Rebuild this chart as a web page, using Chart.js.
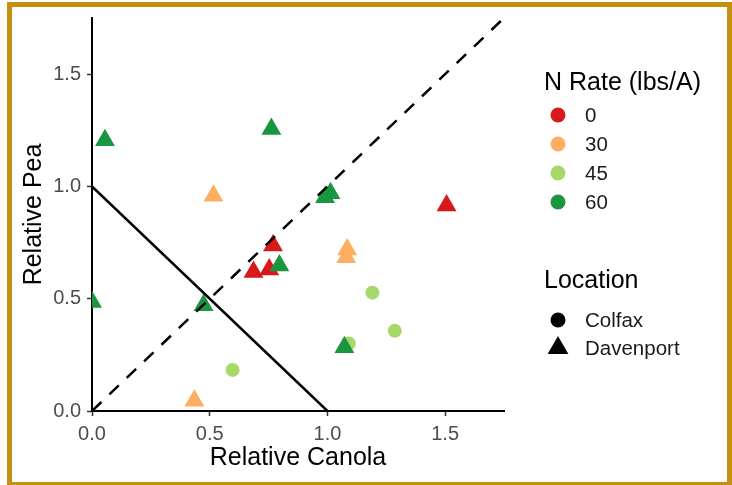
<!DOCTYPE html>
<html>
<head>
<meta charset="utf-8">
<script src="https://cdn.jsdelivr.net/npm/chart.js@4.4.1/dist/chart.umd.min.js"></script>
<style>
  html, body { margin: 0; padding: 0; background: #fff; }
  #wrap { position: relative; width: 732px; height: 485px; overflow: hidden; }
  #plot { position: absolute; left: 0; top: 0; }
  #frame { position: absolute; left: 7px; top: 2px; width: 725px; height: 485px;
           box-sizing: border-box; border: 5px solid #C4900E; pointer-events: none; }
</style>
</head>
<body>
<div id="wrap">
  <canvas id="plot" width="732" height="485"></canvas>
  <div id="frame"></div>
</div>
<script>
// Axis ticks
const xTicks = [0, 0.5, 1.0, 1.5];
const yTicks = [0, 0.5, 1.0, 1.5];
const axisMax = 1.75;

// N rates (legend)
const rates = ['0', '30', '45', '60'];
const rateColors = ['#D7191C', '#FDAE61', '#A6D96A', '#1A9641'];
const locations = ['Colfax', 'Davenport'];

// Davenport (triangles)
const dav0X = [0.769, 0.686, 0.753, 1.506];
const dav0Y = [0.737, 0.619, 0.630, 0.915];
const dav30X = [0.516, 1.084, 1.080, 0.435];
const dav30Y = [0.958, 0.719, 0.685, 0.046];
const dav60X = [0.055, 0.762, 0.990, 1.013, 0.796, 0.000, 0.474, 1.072];
const dav60Y = [1.206, 1.256, 0.952, 0.970, 0.648, 0.485, 0.471, 0.284];

// Colfax (circles)
const col45X = [1.191, 1.286, 1.091, 0.597];
const col45Y = [0.527, 0.357, 0.301, 0.183];

// Reference lines
const lerLineX = [0, 1];
const lerLineY = [1, 0];
const oneToOneX = [0, 1.75];
const oneToOneY = [0, 1.75];

const pts = (xs, ys) => xs.map((x, i) => ({ x: x, y: ys[i] }));

const FONT = '"Liberation Sans", Arial, sans-serif';
Chart.defaults.font.family = FONT;

function pointSet(xs, ys, color, style) {
  return {
    type: 'scatter',
    data: pts(xs, ys),
    backgroundColor: color,
    borderWidth: 0,
    pointStyle: style,
    pointRadius: style === 'triangle' ? 11.5 : 7,
    clip: 0
  };
}

// Legend drawn next to the panel (two groups, like ggplot)
const sideLegend = {
  id: 'sideLegend',
  afterDraw(chart) {
    const ctx = chart.ctx;
    const lx = 544, mx = 558, tx = 585;
    ctx.save();
    ctx.fillStyle = '#000';
    ctx.textBaseline = 'middle';
    ctx.textAlign = 'left';
    ctx.font = '25px ' + FONT;
    ctx.fillText('N Rate (lbs/A)', lx, 83);
    ctx.font = '20.5px ' + FONT;
    rates.forEach((r, i) => {
      const y = 115 + i * 29;
      ctx.fillStyle = rateColors[i];
      Chart.helpers.drawPoint(ctx, { pointStyle: 'circle', radius: 7.5, borderWidth: 0 }, mx, y);
      ctx.fillStyle = '#1a1a1a';
      ctx.fillText(r, tx, y + 1);
    });
    ctx.fillStyle = '#000';
    ctx.font = '25px ' + FONT;
    ctx.fillText('Location', lx, 281);
    ctx.font = '20.5px ' + FONT;
    const shapes = ['circle', 'triangle'];
    locations.forEach((loc, i) => {
      const y = 320 + i * 28;
      ctx.fillStyle = '#000';
      Chart.helpers.drawPoint(ctx, { pointStyle: shapes[i], radius: shapes[i] === 'triangle' ? 12 : 7.5, borderWidth: 0 }, mx, y);
      ctx.fillStyle = '#1a1a1a';
      ctx.fillText(loc, tx, y + 1);
    });
    ctx.restore();
  }
};

const whiteBg = {
  id: 'whiteBg',
  beforeDraw(chart) {
    const ctx = chart.ctx;
    ctx.save();
    ctx.fillStyle = '#fff';
    ctx.fillRect(0, 0, chart.width, chart.height);
    ctx.restore();
  }
};

const axisCommon = {
  type: 'linear',
  min: 0,
  max: axisMax,
  grid: { display: true, drawOnChartArea: false, drawTicks: true, tickLength: 5, tickColor: '#333333', tickWidth: 1.5 },
  border: { display: true, color: '#000', width: 2 },
  ticks: { color: '#4D4D4D', font: { size: 20 }, padding: 6, callback: v => v.toFixed(1) }
};

new Chart(document.getElementById('plot').getContext('2d'), {
  data: {
    datasets: [
      { type: 'line', data: pts(oneToOneX, oneToOneY), borderColor: '#000', borderWidth: 2.5,
        borderDash: [13, 11], pointRadius: 0, fill: false, clip: 0 },
      { type: 'line', data: pts(lerLineX, lerLineY), borderColor: '#000', borderWidth: 2.5,
        pointRadius: 0, fill: false, clip: 0 },
      pointSet(dav60X, dav60Y, rateColors[3], 'triangle'),
      pointSet(dav30X, dav30Y, rateColors[1], 'triangle'),
      pointSet(dav0X, dav0Y, rateColors[0], 'triangle'),
      pointSet(col45X, col45Y, rateColors[2], 'circle')
    ]
  },
  options: {
    responsive: false,
    animation: false,
    events: [],
    layout: { padding: { top: 16, right: 228, left: 0, bottom: 0 } },
    plugins: { legend: { display: false }, tooltip: { enabled: false } },
    scales: {
      x: Object.assign({}, axisCommon, {
        position: 'bottom',
        title: { display: true, text: 'Relative Canola', color: '#000', font: { size: 25 }, padding: { top: 0, bottom: 12 } },
        afterBuildTicks: s => { s.ticks = xTicks.map(v => ({ value: v })); },
        afterFit: s => { s.height = 74; }
      }),
      y: Object.assign({}, axisCommon, {
        position: 'left',
        title: { display: true, text: 'Relative Pea', color: '#000', font: { size: 25 }, padding: { top: 19, bottom: 0 } },
        afterBuildTicks: s => { s.ticks = yTicks.map(v => ({ value: v })); },
        afterFit: s => { s.width = 92; }
      })
    }
  },
  plugins: [whiteBg, sideLegend]
});
</script>
</body>
</html>
